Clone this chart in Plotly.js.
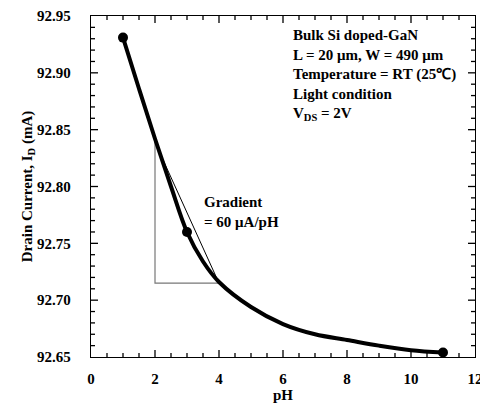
<!DOCTYPE html>
<html>
<head>
<meta charset="utf-8">
<script src="https://cdn.plot.ly/plotly-3.0.1.min.js"></script>
<style>html,body{margin:0;padding:0;background:#fff;}#chart{width:480px;height:406px;}</style>
</head>
<body>
<div id="chart"></div>
<script>
// Fitted curve
var curvePH = [1, 1.5, 2, 2.5, 3, 3.5, 4, 5, 6, 7, 8, 9, 10, 11];
var curveID = [92.931, 92.886, 92.842, 92.800, 92.760, 92.734, 92.716, 92.694, 92.679, 92.670, 92.665, 92.660, 92.656, 92.654];
// Measured points
var pointPH = [1, 3, 11];
var pointID = [92.931, 92.760, 92.654];
// Gradient triangle
var triPH = [2, 2, 4];
var triID = [92.839, 92.715, 92.715];
var tanPH = [2, 4];
var tanID = [92.839, 92.715];
var xRange = [0, 12];
var yRange = [92.65, 92.95];
var xMajor = 2, xMinor = 0.5;
var yMajor = 0.05, yMinor = 0.01;

var font = 'Liberation Serif, Times New Roman, serif';
var W = 480, H = 406, M = {l: 91, r: 5, t: 16, b: 49};
var plotW = W - M.l - M.r, plotH = H - M.t - M.b;

var traces = [
  {x: triPH, y: triID, mode: 'lines', line: {color: '#777', width: 1.2}, hoverinfo: 'skip'},
  {x: tanPH, y: tanID, mode: 'lines', line: {color: '#000', width: 1}, hoverinfo: 'skip'},
  {x: curvePH, y: curveID, mode: 'lines', line: {color: '#000', width: 4, shape: 'spline', smoothing: 1}},
  {x: pointPH, y: pointID, mode: 'markers', marker: {color: '#000', size: 10}}
];

// inward tick marks on all four sides, placed through the axes' own scales
var shapes = [];
function tickLine(isX, v, major) {
  var lenPx = major ? 7 : 4;
  var st = {color: '#000', width: 1.3};
  if (isX) {
    var f = lenPx / plotH;
    shapes.push({type: 'line', xref: 'x', yref: 'paper', x0: v, x1: v, y0: 0, y1: f, line: st});
    shapes.push({type: 'line', xref: 'x', yref: 'paper', x0: v, x1: v, y0: 1, y1: 1 - f, line: st});
  } else {
    var g = lenPx / plotW;
    shapes.push({type: 'line', xref: 'paper', yref: 'y', y0: v, y1: v, x0: 0, x1: g, line: st});
    shapes.push({type: 'line', xref: 'paper', yref: 'y', y0: v, y1: v, x0: 1, x1: 1 - g, line: st});
  }
}
var nx = Math.round((xRange[1] - xRange[0]) / xMinor);
for (var i = 1; i < nx; i++) {
  var xv = xRange[0] + i * xMinor;
  tickLine(true, xv, Math.abs(xv / xMajor - Math.round(xv / xMajor)) < 1e-6);
}
var ny = Math.round((yRange[1] - yRange[0]) / yMinor);
for (var j = 1; j < ny; j++) {
  var yv = yRange[0] + j * yMinor;
  tickLine(false, yv, j % Math.round(yMajor / yMinor) === 0);
}

var layout = {
  width: W, height: H,
  margin: M,
  paper_bgcolor: '#fff', plot_bgcolor: '#fff',
  showlegend: false,
  font: {family: font, color: '#000'},
  xaxis: {
    range: xRange, tickmode: 'linear', tick0: xRange[0], dtick: xMajor,
    showgrid: false, zeroline: false, showline: true, mirror: true, linecolor: '#000', linewidth: 1.3,
    ticks: '', ticklabelstandoff: 8, ticklabeloverflow: 'allow',
    tickfont: {family: font, size: 15, color: '#000', weight: 'bold'},
    title: {text: '<b>pH</b>', font: {family: font, size: 15, color: '#000'}, standoff: 1}
  },
  yaxis: {
    range: yRange, tickmode: 'linear', tick0: yRange[0], dtick: yMajor, tickformat: '.2f',
    showgrid: false, zeroline: false, showline: true, mirror: true, linecolor: '#000', linewidth: 1.3,
    ticks: '', ticklabelstandoff: 16,
    tickfont: {family: font, size: 15, color: '#000', weight: 'bold'},
    title: {text: '<b>Drain Current, I<sub>D</sub> (mA)</b>', font: {family: font, size: 15, color: '#000'}, standoff: 0}
  },
  shapes: shapes,
  annotations: [
    {xref: 'paper', yref: 'paper', x: 0.52, y: 0.975, xanchor: 'left', yanchor: 'top', align: 'left', showarrow: false,
     text: '<b>Bulk Si doped-GaN<br>L = 20 μm, W = 490 μm<br>Temperature = RT (25℃)<br>Light condition<br>V<sub>DS</sub> = 2V</b>',
     font: {family: font, size: 15, color: '#000'}},
    {xref: 'paper', yref: 'paper', x: 0.29, y: 0.485, xanchor: 'left', yanchor: 'top', align: 'left', showarrow: false,
     text: '<b>Gradient<br>= 60 μA/pH</b>',
     font: {family: font, size: 15, color: '#000'}}
  ]
};

Plotly.newPlot('chart', traces, layout, {displayModeBar: false, staticPlot: true});
</script>
</body>
</html>
